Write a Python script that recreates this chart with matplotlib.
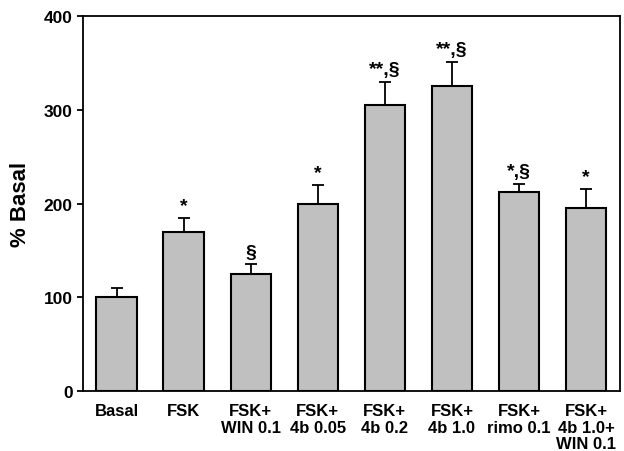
import matplotlib
matplotlib.use("Agg")
import matplotlib.pyplot as plt
import numpy as np

plt.rcParams["font.family"] = ["Liberation Sans", "DejaVu Sans"]
plt.rcParams["font.weight"] = "bold"

labels = ["Basal", "FSK", "FSK+\nWIN 0.1", "FSK+\n4b 0.05", "FSK+\n4b 0.2",
          "FSK+\n4b 1.0", "FSK+\nrimo 0.1", "FSK+\n4b 1.0+\nWIN 0.1"]
values = [100, 170, 125, 200, 305, 325, 212, 195]
errors = [10, 15, 10, 20, 25, 26, 9, 21]
marks = ["", "*", "§", "*", "**,§", "**,§", "*,§", "*"]

fig, ax = plt.subplots(figsize=(6.24, 4.52), dpi=100)
fig.subplots_adjust(left=0.133, right=0.993, top=0.962, bottom=0.133)

x = np.arange(len(values))
ax.bar(x, values, width=0.6, color="#c0c0c0", edgecolor="black", linewidth=1.5,
       yerr=[np.zeros(len(errors)), errors], capsize=4,
       error_kw=dict(elinewidth=1.3, capthick=1.3, ecolor="black"))

for xi, v, e, m in zip(x, values, errors, marks):
    if m:
        ax.text(xi, v + e + 4, m, ha="center", va="bottom",
                fontsize=14, fontweight="bold")

ax.set_xlim(-0.5, 7.5)
ax.set_ylim(0, 400)
ax.set_yticks([0, 100, 200, 300, 400])
ax.set_xticks(x)
ax.set_xticklabels(labels, fontsize=12, fontweight="bold", linespacing=1.1)
ax.tick_params(axis="x", length=0, pad=9)
ax.tick_params(axis="y", labelsize=12.5, width=1.3, length=4)
for s in ax.spines.values():
    s.set_linewidth(1.3)
ax.set_ylabel("% Basal", fontsize=16, fontweight="bold", labelpad=9)

fig.savefig("out.png", dpi=100)
